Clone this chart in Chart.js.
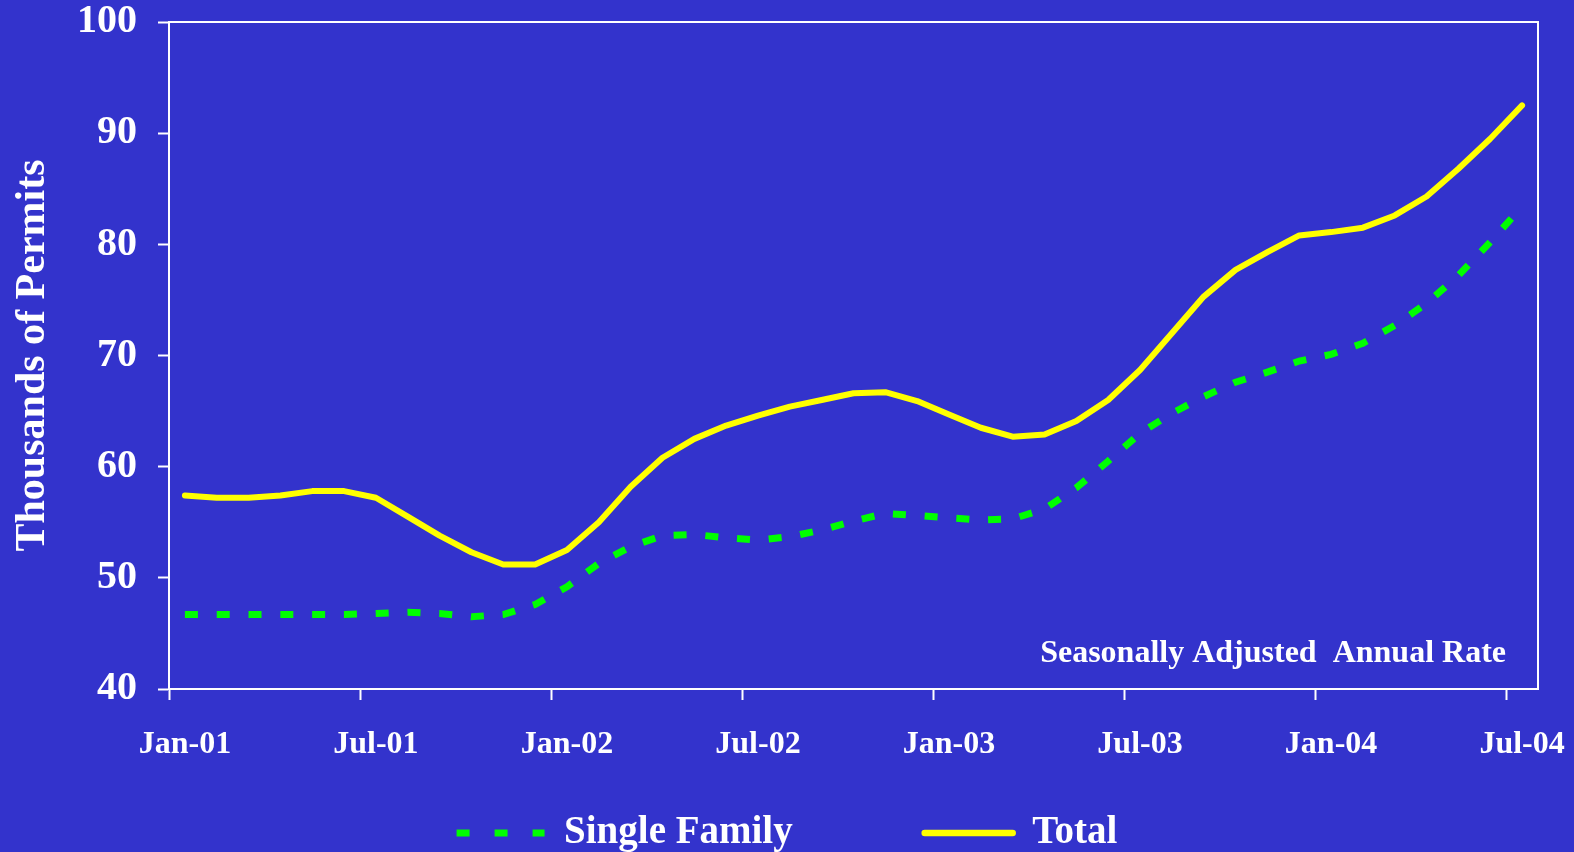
<!DOCTYPE html>
<html>
<head>
<meta charset="utf-8">
<title>Building Permits</title>
<script src="https://cdn.jsdelivr.net/npm/chart.js@4.4.1/dist/chart.umd.min.js"></script>
<style>
  html, body { margin: 0; padding: 0; background: #3333cc; overflow: hidden; }
  #wrap { width: 1574px; height: 852px; }
</style>
</head>
<body>
<div id="wrap"><canvas id="permitChart"></canvas></div>
<script>
// monthly categories, Jan-01 .. Jul-04
const months = [
  'Jan-01', 'Feb-01', 'Mar-01', 'Apr-01', 'May-01', 'Jun-01', 'Jul-01', 'Aug-01', 'Sep-01', 'Oct-01', 'Nov-01', 'Dec-01',
  'Jan-02', 'Feb-02', 'Mar-02', 'Apr-02', 'May-02', 'Jun-02', 'Jul-02', 'Aug-02', 'Sep-02', 'Oct-02', 'Nov-02', 'Dec-02',
  'Jan-03', 'Feb-03', 'Mar-03', 'Apr-03', 'May-03', 'Jun-03', 'Jul-03', 'Aug-03', 'Sep-03', 'Oct-03', 'Nov-03', 'Dec-03',
  'Jan-04', 'Feb-04', 'Mar-04', 'Apr-04', 'May-04', 'Jun-04', 'Jul-04'
];

// labels that get a tick mark on the x axis
const axisLabels = ['Jan-01', 'Jul-01', 'Jan-02', 'Jul-02', 'Jan-03', 'Jul-03', 'Jan-04', 'Jul-04'];

// thousands of permits, seasonally adjusted annual rate
const totalPermits = [
  57.4, 57.2, 57.2, 57.4, 57.8, 57.8, 57.2, 55.5, 53.8, 52.3, 51.2, 51.2,
  52.5, 55.0, 58.2, 60.8, 62.5, 63.7, 64.6, 65.4, 66.0, 66.6, 66.7, 65.9,
  64.7, 63.5, 62.7, 62.9, 64.1, 66.0, 68.7, 72.0, 75.3, 77.7, 79.3, 80.8,
  81.1, 81.5, 82.6, 84.3, 86.8, 89.5, 92.5
];
const singleFamily = [
  46.7, 46.7, 46.7, 46.7, 46.7, 46.7, 46.8, 46.9, 46.8, 46.5, 46.7, 47.6,
  49.2, 51.3, 52.8, 53.8, 53.9, 53.6, 53.4, 53.7, 54.3, 55.1, 55.8, 55.6,
  55.4, 55.2, 55.3, 56.2, 58.1, 60.5, 63.0, 64.8, 66.3, 67.6, 68.5, 69.5,
  70.1, 71.1, 72.7, 74.7, 77.2, 80.2, 83.4
];

const yMin = 40;
const yMax = 100;
const yStep = 10;

const serif = "'Liberation Serif', 'Times New Roman', serif";
const white = '#ffffff';
const yellow = '#ffff00';
const green = '#00ff00';
const clear = 'rgba(0,0,0,0)';

Chart.defaults.font.family = serif;
Chart.defaults.font.weight = 'bold';
Chart.defaults.color = white;

// white frame round the plot area + the rate note in its corner
const plotFrame = {
  id: 'plotFrame',
  beforeDatasetsDraw(chart) {
    const { ctx, chartArea: a } = chart;
    ctx.save();
    ctx.strokeStyle = white;
    ctx.lineWidth = 2;
    ctx.strokeRect(a.left, a.top, a.right - a.left, a.bottom - a.top);
    ctx.restore();
  },
  afterDatasetsDraw(chart) {
    const { ctx, chartArea: a } = chart;
    ctx.save();
    ctx.fillStyle = white;
    ctx.font = 'bold 32px ' + serif;
    ctx.textAlign = 'right';
    ctx.textBaseline = 'alphabetic';
    ctx.fillText('Seasonally Adjusted  Annual Rate', a.right - 32, a.bottom - 27);
    ctx.restore();
  }
};

const ctx = document.getElementById('permitChart').getContext('2d');

new Chart(ctx, {
  type: 'line',
  data: {
    labels: months,
    datasets: [
      {
        label: 'Single Family',
        data: singleFamily,
        borderColor: green,
        borderWidth: 7,
        borderDash: [13, 18.8],
        borderCapStyle: 'butt',
        pointRadius: 0,
        tension: 0,
        fill: false
      },
      {
        label: 'Total',
        data: totalPermits,
        borderColor: yellow,
        borderWidth: 6,
        borderCapStyle: 'round',
        borderJoinStyle: 'round',
        pointRadius: 0,
        tension: 0,
        fill: false
      }
    ]
  },
  options: {
    responsive: true,
    maintainAspectRatio: false,
    animation: false,
    layout: { padding: { left: 0, top: 22, right: 0, bottom: -10.5 } },
    plugins: {
      tooltip: { enabled: false },
      legend: {
        position: 'bottom',
        labels: {
          usePointStyle: true,
          pointStyleWidth: 88,
          padding: 12.25,
          color: white,
          font: { size: 39, weight: 'bold', family: serif },
          // blank middle entry keeps the two keys apart
          generateLabels: () => [
            { text: 'Single Family', pointStyle: 'line', strokeStyle: green, fillStyle: green,
              lineWidth: 7, lineDash: [13, 25], lineCap: 'butt', fontColor: white, hidden: false, datasetIndex: 0 },
            { text: '', pointStyle: 'line', strokeStyle: clear, fillStyle: clear,
              lineWidth: 0, fontColor: white, hidden: false },
            { text: 'Total', pointStyle: 'line', strokeStyle: yellow, fillStyle: yellow,
              lineWidth: 6.5, lineDash: [], lineCap: 'round', fontColor: white, hidden: false, datasetIndex: 1 }
          ]
        }
      }
    },
    scales: {
      x: {
        offset: true,
        border: { color: white, width: 2 },
        grid: {
          offset: true,
          drawOnChartArea: false,
          drawTicks: true,
          tickLength: 11,
          tickWidth: 2,
          color: clear,
          tickColor: (c) => axisLabels.includes(months[c.index]) ? white : clear
        },
        ticks: {
          autoSkip: false,
          maxRotation: 0,
          padding: 26,
          color: white,
          font: { size: 32, weight: 'bold', family: serif, lineHeight: 1.2 },
          callback: (v, i) => axisLabels.includes(months[i]) ? months[i] : ''
        },
        afterFit: (s) => {
          s.height = 112.25;
          s.paddingLeft = 0;
          s.paddingRight = 36;
        }
      },
      y: {
        min: yMin,
        max: yMax,
        border: { color: white, width: 2 },
        grid: {
          drawOnChartArea: false,
          tickLength: 11,
          tickWidth: 2,
          color: white,
          tickColor: white
        },
        ticks: {
          stepSize: yStep,
          padding: 21,
          color: white,
          font: { size: 40, weight: 'bold', family: serif }
        },
        title: {
          display: true,
          text: 'Thousands of Permits',
          color: white,
          padding: { top: 8, bottom: 0 },
          font: { size: 42, weight: 'bold', family: serif, lineHeight: 1.2 }
        },
        afterFit: (s) => {
          s.width = 169;
          s.paddingTop = 0;
          s.paddingBottom = 0;
        }
      }
    }
  },
  plugins: [plotFrame]
});
</script>
</body>
</html>
